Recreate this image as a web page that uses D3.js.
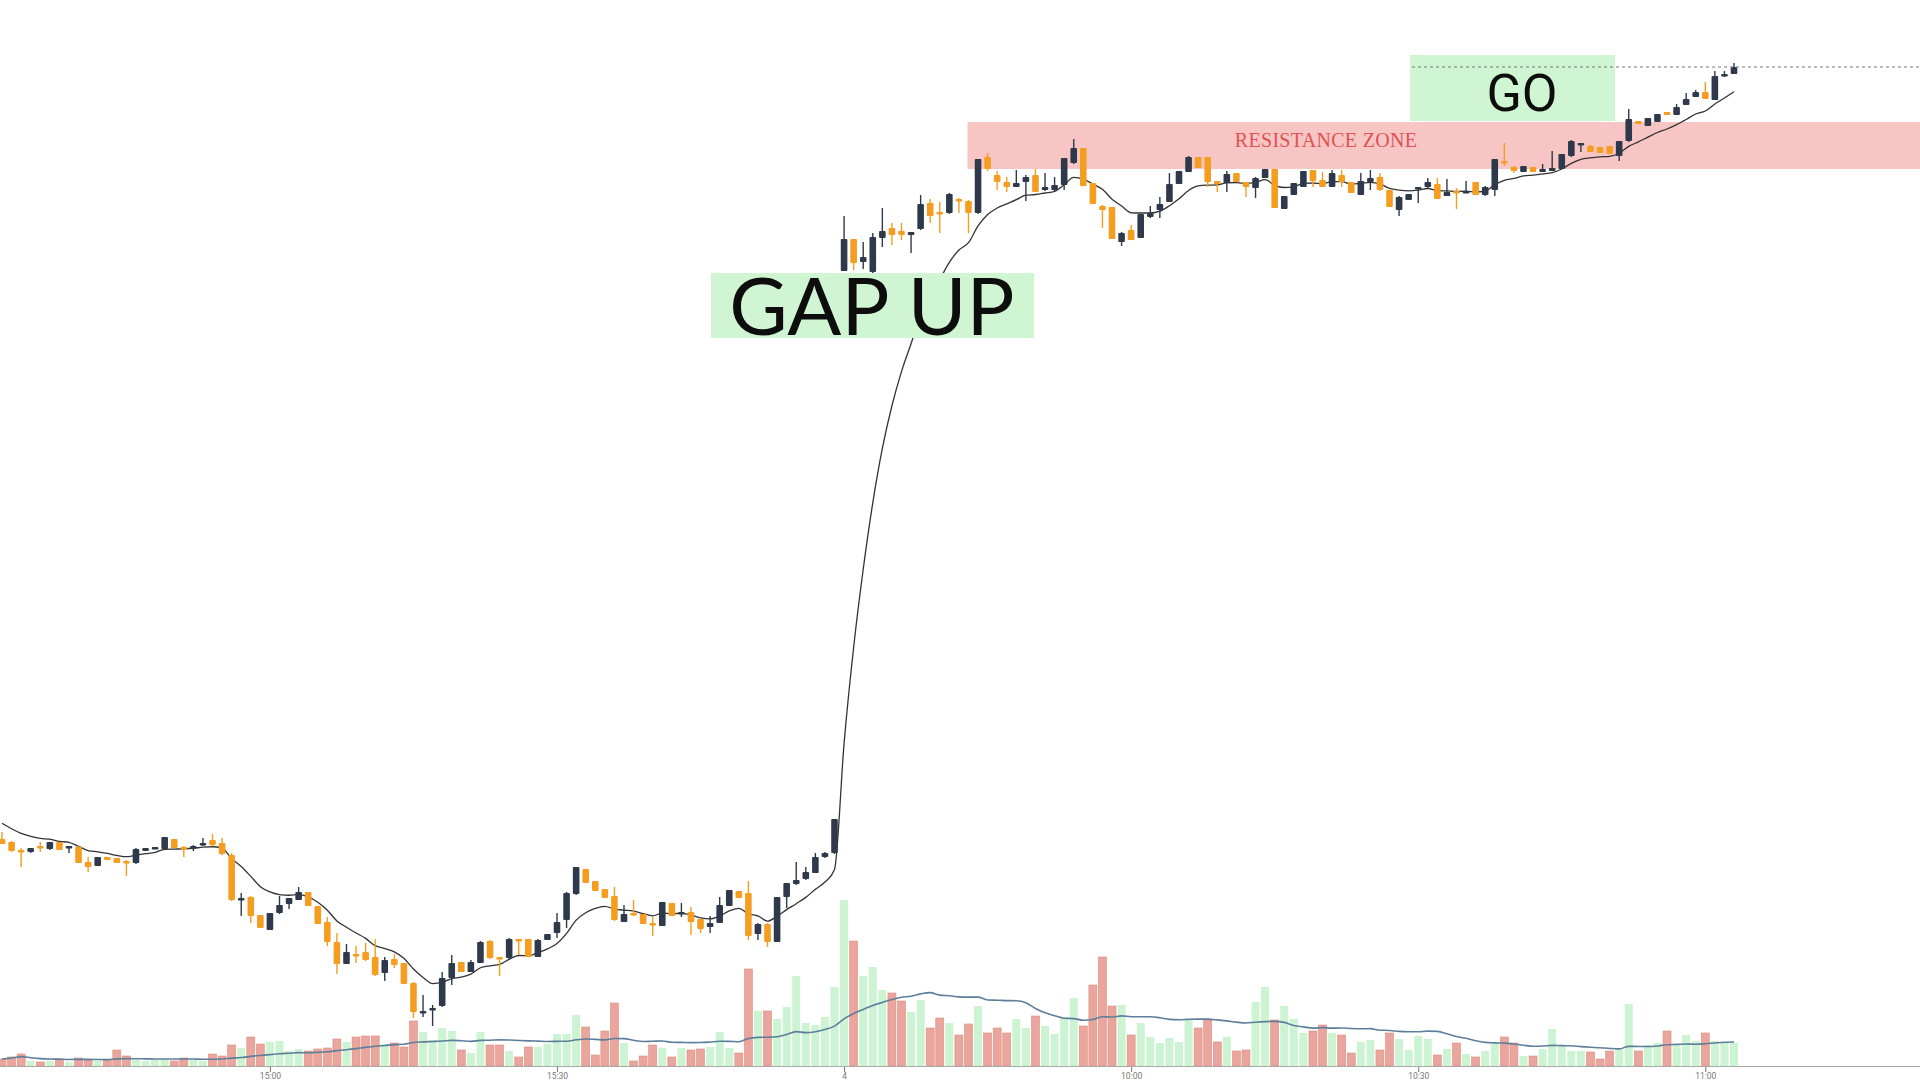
<!DOCTYPE html>
<html>
<head>
<meta charset="utf-8">
<script src="https://cdn.jsdelivr.net/npm/d3@7"></script>
<style>
body { margin: 0; background: #fff; overflow: hidden; }
</style>
</head>
<body>
<script>
var svgWidth = 1920;
var svgHeight = 1080;

// 1 minute bars: tail of previous session, then the gap up session
var opens = [
    4.41, 4.38, 4.30, 4.28, 4.34, 4.31, 4.38, 4.32, 4.33, 4.18,
    4.14, 4.23, 4.22, 4.19, 4.17, 4.29, 4.32, 4.31, 4.41, 4.33,
    4.33, 4.35, 4.40, 4.37, 4.25, 3.81, 3.83, 3.65, 3.50, 3.67,
    3.76, 3.80, 3.88, 3.74, 3.58, 3.38, 3.16, 3.26, 3.28, 3.23,
    3.07, 3.21, 3.17, 2.97, 2.68, 2.71, 2.74, 3.02, 3.18, 3.08,
    3.17, 3.39, 3.23, 3.22, 3.41, 3.41, 3.23, 3.40, 3.47, 3.60,
    3.86, 4.11, 3.99, 3.91, 3.84, 3.58, 3.67, 3.66, 3.57, 3.54,
    3.77, 3.67, 3.68, 3.61, 3.53, 3.57, 3.74, 3.89, 3.87, 3.46,
    3.56, 3.38, 3.83, 3.96, 4.01, 4.07, 4.23, 4.27, 10.09, 10.41,
    10.18, 10.08, 10.42, 10.52, 10.49, 10.45, 10.51, 10.77, 10.68, 10.67,
    10.81, 10.79, 10.67, 11.23, 11.05, 10.98, 10.93, 10.98, 11.05, 10.90,
    10.90, 10.95, 11.17, 11.32, 10.97, 10.74, 10.73, 10.38, 10.50, 10.42,
    10.63, 10.70, 10.78, 10.96, 11.08, 11.23, 11.23, 10.99, 10.97, 11.07,
    10.98, 10.92, 11.02, 11.11, 10.71, 10.85, 10.93, 11.10, 11.00, 10.93,
    11.05, 10.98, 10.85, 10.98, 11.03, 10.90, 10.70, 10.80, 10.92, 10.93,
    10.96, 10.84, 10.89, 10.87, 10.98, 10.85, 10.90, 11.19, 11.13, 11.08,
    11.13, 11.08, 11.09, 11.11, 11.24, 11.36, 11.34, 11.33, 11.34, 11.24,
    11.39, 11.59, 11.54, 11.58, 11.68, 11.65, 11.75, 11.83, 11.88, 11.80,
    12.04, 12.06
];
var highs = [
    4.48, 4.39, 4.32, 4.32, 4.38, 4.38, 4.38, 4.34, 4.34, 4.23,
    4.23, 4.23, 4.22, 4.20, 4.32, 4.32, 4.33, 4.43, 4.41, 4.34,
    4.35, 4.42, 4.46, 4.42, 4.27, 3.87, 3.84, 3.65, 3.67, 3.84,
    3.82, 3.93, 3.88, 3.74, 3.63, 3.47, 3.36, 3.34, 3.37, 3.41,
    3.23, 3.26, 3.17, 2.98, 2.85, 2.75, 3.08, 3.25, 3.18, 3.20,
    3.39, 3.40, 3.23, 3.42, 3.41, 3.41, 3.41, 3.46, 3.67, 3.88,
    4.13, 4.11, 3.99, 3.91, 3.93, 3.75, 3.80, 3.66, 3.63, 3.78,
    3.77, 3.77, 3.73, 3.61, 3.64, 3.83, 3.90, 3.89, 3.99, 3.57,
    3.57, 3.83, 3.97, 4.18, 4.13, 4.27, 4.28, 4.61, 10.64, 10.41,
    10.38, 10.47, 10.72, 10.57, 10.57, 10.48, 10.85, 10.81, 10.78, 10.87,
    10.82, 10.80, 11.21, 11.27, 11.09, 11.03, 11.10, 11.05, 11.11, 11.07,
    11.03, 11.22, 11.41, 11.32, 10.97, 10.75, 10.73, 10.48, 10.55, 10.66,
    10.74, 10.83, 11.07, 11.09, 11.24, 11.23, 11.23, 10.99, 11.09, 11.07,
    10.98, 11.03, 11.11, 11.11, 10.84, 10.97, 11.09, 11.10, 11.08, 11.10,
    11.10, 10.98, 11.07, 11.10, 11.07, 10.90, 10.84, 10.86, 10.93, 11.02,
    11.02, 11.01, 10.92, 10.99, 10.98, 10.94, 11.21, 11.37, 11.14, 11.14,
    11.13, 11.16, 11.29, 11.26, 11.40, 11.37, 11.35, 11.33, 11.34, 11.39,
    11.71, 11.59, 11.62, 11.66, 11.68, 11.76, 11.87, 11.90, 11.98, 12.09,
    12.09, 12.17
];
var lows = [
    4.36, 4.28, 4.13, 4.27, 4.28, 4.30, 4.30, 4.27, 4.17, 4.08,
    4.14, 4.20, 4.17, 4.04, 4.16, 4.29, 4.32, 4.31, 4.32, 4.23,
    4.29, 4.34, 4.34, 4.25, 3.79, 3.64, 3.57, 3.52, 3.50, 3.66,
    3.71, 3.80, 3.74, 3.56, 3.34, 3.06, 3.16, 3.17, 3.19, 3.04,
    2.99, 3.12, 2.96, 2.62, 2.63, 2.54, 2.73, 2.95, 3.08, 3.08,
    3.17, 3.21, 3.04, 3.21, 3.25, 3.23, 3.23, 3.40, 3.42, 3.52,
    3.85, 3.97, 3.89, 3.82, 3.59, 3.58, 3.64, 3.56, 3.44, 3.54,
    3.64, 3.63, 3.45, 3.47, 3.47, 3.57, 3.74, 3.82, 3.40, 3.40,
    3.33, 3.38, 3.72, 3.95, 4.00, 4.07, 4.22, 4.26, 10.09, 10.10,
    10.11, 10.07, 10.33, 10.35, 10.40, 10.27, 10.50, 10.57, 10.47, 10.66,
    10.67, 10.47, 10.66, 11.09, 10.90, 10.88, 10.93, 10.79, 10.88, 10.89,
    10.89, 10.90, 11.16, 10.94, 10.76, 10.52, 10.41, 10.34, 10.40, 10.42,
    10.62, 10.62, 10.78, 10.96, 11.08, 11.12, 10.93, 10.88, 10.88, 10.98,
    10.83, 10.82, 11.02, 10.72, 10.71, 10.85, 10.93, 10.93, 10.93, 10.93,
    10.93, 10.87, 10.85, 10.90, 10.89, 10.73, 10.64, 10.80, 10.77, 10.92,
    10.81, 10.84, 10.71, 10.87, 10.85, 10.84, 10.84, 11.14, 11.07, 11.08,
    11.08, 11.08, 11.09, 11.11, 11.23, 11.28, 11.28, 11.27, 11.26, 11.19,
    11.38, 11.56, 11.54, 11.58, 11.65, 11.65, 11.75, 11.83, 11.81, 11.80,
    12.03, 12.06
];
var closes = [
    4.36, 4.29, 4.28, 4.32, 4.33, 4.38, 4.30, 4.34, 4.17, 4.13,
    4.23, 4.20, 4.17, 4.18, 4.31, 4.32, 4.33, 4.43, 4.32, 4.32,
    4.34, 4.37, 4.35, 4.26, 3.80, 3.82, 3.64, 3.52, 3.67, 3.75,
    3.82, 3.88, 3.74, 3.56, 3.38, 3.16, 3.28, 3.24, 3.20, 3.05,
    3.20, 3.15, 2.96, 2.68, 2.69, 2.72, 3.02, 3.17, 3.08, 3.18,
    3.38, 3.22, 3.21, 3.41, 3.40, 3.23, 3.40, 3.46, 3.58, 3.87,
    4.13, 3.97, 3.89, 3.82, 3.60, 3.66, 3.65, 3.56, 3.55, 3.78,
    3.64, 3.68, 3.58, 3.51, 3.57, 3.75, 3.90, 3.82, 3.44, 3.56,
    3.38, 3.83, 3.97, 4.00, 4.08, 4.23, 4.27, 4.61, 10.41, 10.17,
    10.23, 10.43, 10.49, 10.45, 10.45, 10.48, 10.76, 10.64, 10.66, 10.86,
    10.79, 10.67, 11.21, 11.11, 10.98, 10.93, 10.97, 11.03, 10.88, 10.93,
    10.95, 11.22, 11.32, 10.94, 10.76, 10.70, 10.41, 10.47, 10.40, 10.66,
    10.67, 10.76, 10.96, 11.09, 11.23, 11.12, 10.98, 10.96, 11.06, 10.98,
    10.93, 11.02, 11.11, 10.72, 10.84, 10.97, 11.09, 10.99, 10.93, 11.07,
    10.98, 10.87, 10.99, 11.02, 10.90, 10.73, 10.83, 10.86, 10.93, 10.98,
    10.81, 10.88, 10.87, 10.89, 10.85, 10.93, 11.21, 11.17, 11.09, 11.14,
    11.08, 11.11, 11.12, 11.26, 11.39, 11.37, 11.28, 11.27, 11.26, 11.39,
    11.61, 11.56, 11.62, 11.66, 11.65, 11.73, 11.81, 11.88, 11.81, 12.04,
    12.06, 12.13
];
// volume in thousands
var volumes = [
    7, 9, 12, 5, 4, 5, 6, 4, 8, 6,
    5, 6, 16, 10, 6, 5, 6, 7, 5, 8,
    6, 5, 12, 10, 21, 18, 29, 22, 24, 25,
    15, 17, 15, 17, 18, 27, 24, 29, 30, 30,
    22, 23, 19, 45, 34, 26, 38, 35, 16, 13,
    34, 21, 21, 15, 9, 19, 19, 22, 32, 32,
    51, 39, 11, 35, 63, 23, 5, 10, 21, 18,
    9, 18, 16, 17, 19, 34, 18, 13, 97, 55,
    55, 47, 59, 90, 43, 41, 49, 79, 166, 125,
    90, 99, 76, 73, 65, 54, 66, 38, 48, 43,
    31, 42, 60, 33, 38, 33, 47, 38, 50, 40,
    32, 49, 68, 40, 81, 109, 60, 61, 31, 43,
    29, 23, 28, 24, 47, 38, 46, 24, 29, 15,
    16, 64, 79, 46, 60, 47, 33, 35, 41, 33,
    31, 13, 24, 26, 16, 33, 27, 16, 30, 27,
    11, 17, 23, 12, 9, 15, 24, 29, 23, 10,
    10, 17, 37, 21, 15, 15, 14, 7, 15, 18,
    62, 15, 21, 23, 35, 21, 31, 25, 33, 25,
    24, 23
];

var tickIndex = [28, 58, 88, 118, 148, 178];
var tickLabels = ['15:00', '15:30', '4', '10:00', '10:30', '11:00'];

var maStart = 4.62;       // value of the 9 EMA at the left edge
var resistance = [11.11, 11.58];
var resistanceFrom = 101;

var n = closes.length;

function ema(values, period, seed) {
    var k = 2 / (period + 1);
    var prev = seed;
    return values.map(function (v) {
        prev = v * k + prev * (1 - k);
        return prev;
    });
}

function sma(values, period) {
    return values.map(function (v, i) {
        return d3.mean(values.slice(Math.max(0, i - period + 1), i + 1));
    });
}

var priceMa = ema(closes, 9, maStart);
var volMa = sma(volumes, 20);

var svg = d3.select('body')
    .append('svg')
    .attr('width', svgWidth)
    .attr('height', svgHeight)
    .style('display', 'block')
    .style('background', '#ffffff');

var x = d3.scaleLinear()
    .domain([0, n - 1])
    .range([2, 1734]);

var y = d3.scaleLinear()
    .domain([2.0, 12.8])
    .range([svgHeight, 0]);

var baseY = 1066;
var yVol = d3.scaleLinear()
    .domain([0, 200])
    .range([baseY, baseY - 200]);

var upColor = '#2e3a4b';
var downColor = '#f59d20';

// resistance band
svg.append('rect')
    .attr('x', x(resistanceFrom) - 1)
    .attr('y', y(resistance[1]))
    .attr('width', svgWidth - x(resistanceFrom) + 1)
    .attr('height', y(resistance[0]) - y(resistance[1]))
    .style('fill', '#f8c5c5');

svg.append('text')
    .attr('x', 1326)
    .attr('y', y(resistance[0]) - 22)
    .attr('text-anchor', 'middle')
    .attr('font-family', 'Liberation Serif, serif')
    .attr('font-size', 20)
    .attr('letter-spacing', 0.3)
    .style('fill', '#e05252')
    .text('RESISTANCE ZONE');

// volume
svg.append('g')
    .selectAll('rect')
    .data(volumes)
    .enter()
    .append('rect')
    .attr('x', function (d, i) { return x(i) - 4; })
    .attr('y', function (d) { return yVol(d); })
    .attr('width', 8)
    .attr('height', function (d) { return baseY - yVol(d); })
    .style('fill', function (d, i) {
        return closes[i] >= opens[i] ? '#ccf3d2' : '#eaa69c';
    })
    .style('stroke', function (d, i) {
        return closes[i] >= opens[i] ? 'none' : '#dc8d82';
    })
    .style('stroke-width', 0.6);

svg.append('path')
    .datum(volMa)
    .attr('d', d3.line()
        .x(function (d, i) { return x(i); })
        .y(function (d) { return yVol(d); })
        .curve(d3.curveMonotoneX))
    .style('fill', 'none')
    .style('stroke', '#5d7f9c')
    .style('stroke-width', 1.6);

// axis
svg.append('line')
    .attr('x1', 0)
    .attr('x2', svgWidth)
    .attr('y1', baseY + 0.5)
    .attr('y2', baseY + 0.5)
    .style('stroke', '#a9a9a9')
    .style('stroke-width', 1.2);

var axis = svg.append('g')
    .attr('transform', 'translate(0,' + (baseY + 1) + ')')
    .call(d3.axisBottom(x)
        .tickValues(tickIndex)
        .tickFormat(function (d, i) { return tickLabels[i]; })
        .tickSize(5)
        .tickPadding(1));

axis.select('.domain').remove();
axis.selectAll('line').style('stroke', '#777');
axis.selectAll('text')
    .style('fill', '#777')
    .attr('font-family', 'Roboto, sans-serif')
    .attr('font-size', 8.5);

// price moving average
svg.append('path')
    .datum(priceMa)
    .attr('d', d3.line()
        .x(function (d, i) { return x(i); })
        .y(function (d) { return y(d); })
        .curve(d3.curveMonotoneX))
    .style('fill', 'none')
    .style('stroke', '#333')
    .style('stroke-width', 1.3);

// candles
var candles = svg.append('g')
    .selectAll('g')
    .data(closes)
    .enter()
    .append('g');

candles.append('line')
    .attr('x1', function (d, i) { return x(i); })
    .attr('x2', function (d, i) { return x(i); })
    .attr('y1', function (d, i) { return y(highs[i]); })
    .attr('y2', function (d, i) { return y(lows[i]); })
    .style('stroke', function (d, i) { return d >= opens[i] ? upColor : downColor; })
    .style('stroke-width', 1.4);

candles.append('rect')
    .attr('x', function (d, i) { return x(i) - 3.3; })
    .attr('y', function (d, i) { return y(Math.max(d, opens[i])); })
    .attr('width', 6.6)
    .attr('height', function (d, i) {
        return Math.max(2.5, Math.abs(y(d) - y(opens[i])));
    })
    .attr('rx', 1)
    .style('fill', function (d, i) { return d >= opens[i] ? upColor : downColor; });

// annotations
svg.append('rect')
    .attr('x', 711)
    .attr('y', 273)
    .attr('width', 323)
    .attr('height', 65)
    .style('fill', '#cff5d2');

svg.append('text')
    .attr('x', 872)
    .attr('y', 335)
    .attr('text-anchor', 'middle')
    .attr('font-family', 'Lato, sans-serif')
    .attr('font-size', 80)
    .style('fill', '#0d0d0d')
    .text('GAP UP');

svg.append('rect')
    .attr('x', 1410)
    .attr('y', 55)
    .attr('width', 205)
    .attr('height', 66)
    .style('fill', '#cff5d2');

svg.append('text')
    .attr('x', 1522)
    .attr('y', 111)
    .attr('text-anchor', 'middle')
    .attr('font-family', 'Roboto, sans-serif')
    .attr('font-size', 52)
    .style('fill', '#0d0d0d')
    .text('GO');

// last price line
svg.append('line')
    .attr('x1', 1412)
    .attr('x2', svgWidth)
    .attr('y1', y(closes[n - 1]))
    .attr('y2', y(closes[n - 1]))
    .style('stroke', '#777')
    .style('stroke-width', 1)
    .style('stroke-dasharray', '3,3');
</script>
</body>
</html>
